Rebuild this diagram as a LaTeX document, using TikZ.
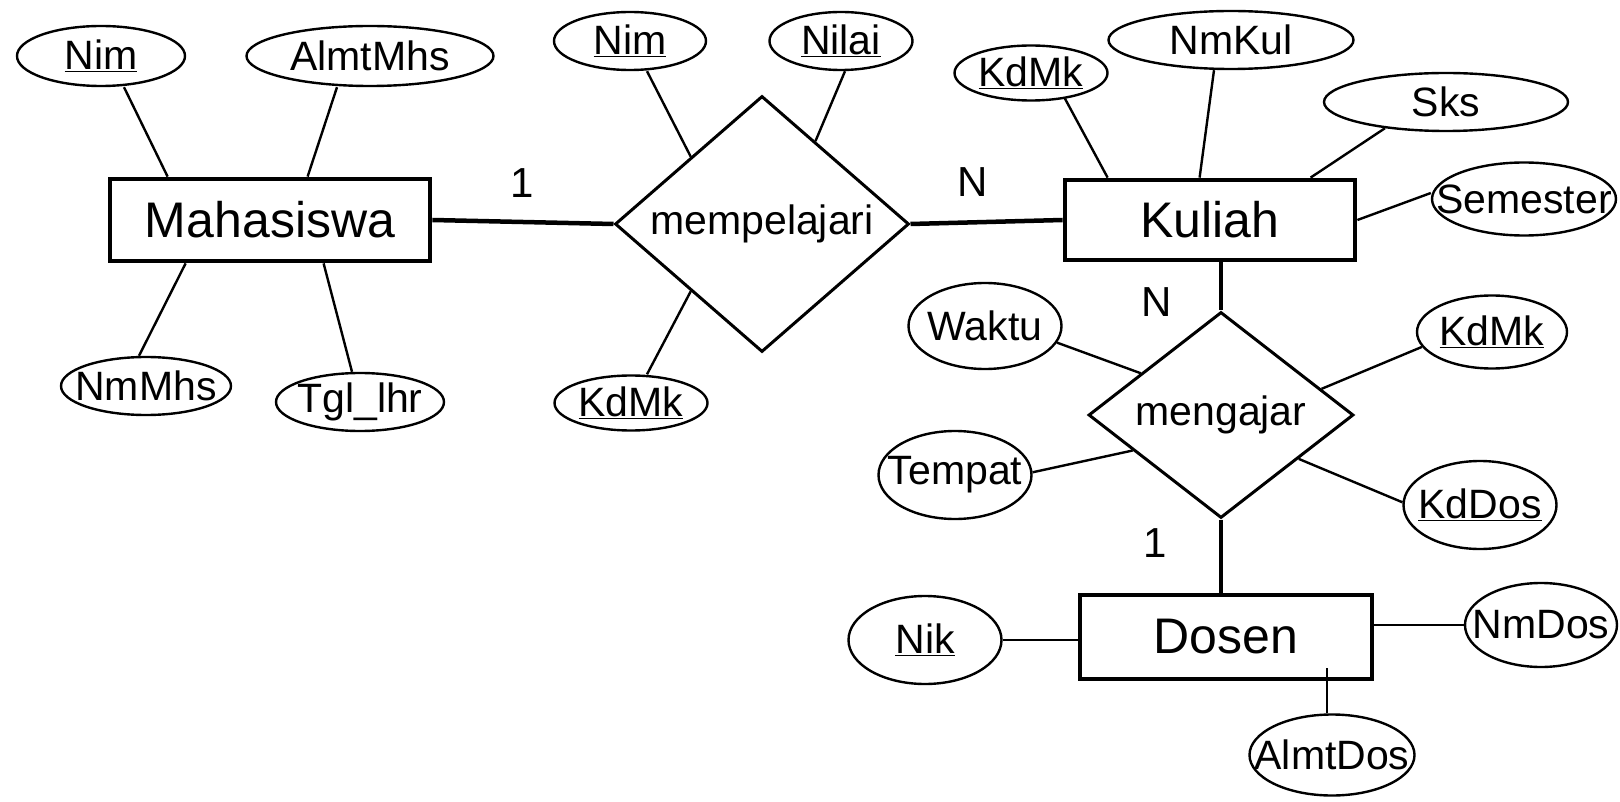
\documentclass[tikz,border=0pt]{standalone}
\usepackage{fontspec}
\setmainfont{Liberation Sans}
\usetikzlibrary{shapes.geometric,calc}
\begin{document}
\begin{tikzpicture}[x=1pt,y=-1pt,
  ent/.style={draw, line width=4.8pt, rectangle, inner sep=0pt},
  rel/.style={draw, line width=3pt, diamond, inner sep=0pt},
  attr/.style={draw, line width=2.4pt, ellipse, inner sep=0pt},
  conn/.style={line width=2.4pt},
  thickconn/.style={line width=4.5pt},
  etext/.style={font=\fontsize{50}{60}\selectfont},
  rtext/.style={font=\fontsize{41}{49}\selectfont},
  atext/.style={font=\fontsize{41}{49}\selectfont},
  card/.style={font=\fontsize{42}{50}\selectfont}]
\useasboundingbox[fill=white] (0,0) rectangle (1620,802);

% entities
\node[ent, minimum width=320, minimum height=82, label={[etext]center:Mahasiswa}] (maha) at (270,220) {};
\node[ent, minimum width=290, minimum height=80, label={[etext]center:Kuliah}] (kul) at (1210,220) {};
\node[ent, minimum width=292, minimum height=84, label={[etext]center:Dosen}] (dos) at (1226,637) {};

% relationships
\node[rel, minimum width=294, minimum height=256, label={[rtext]center:mempelajari}] (mp) at (762,224) {};
\node[rel, minimum width=265, minimum height=206, label={[rtext]center:mengajar}] (mg) at (1221,415) {};

% attributes
\node[attr, minimum width=168, minimum height=60, label={[atext]center:\underline{Nim}}] (a1) at (101,56) {};
\node[attr, minimum width=247, minimum height=60, label={[atext]center:AlmtMhs}] (a2) at (370,56) {};
\node[attr, minimum width=170, minimum height=58, label={[atext]center:NmMhs}] (a3) at (146,386) {};
\node[attr, minimum width=168, minimum height=58, label={[atext]center:Tgl\_lhr}] (a4) at (360,402) {};
\node[attr, minimum width=152, minimum height=58, label={[atext]center:\underline{Nim}}] (b1) at (630,41) {};
\node[attr, minimum width=143, minimum height=58, label={[atext]center:\underline{Nilai}}] (b2) at (841,41) {};
\node[attr, minimum width=153, minimum height=55, label={[atext]center:\underline{KdMk}}] (b3) at (631,403) {};
\node[attr, minimum width=153, minimum height=55, label={[atext]center:\underline{KdMk}}] (c1) at (1031,73) {};
\node[attr, minimum width=245, minimum height=58, label={[atext]center:NmKul}] (c2) at (1231,40) {};
\node[attr, minimum width=244, minimum height=58, label={[atext]center:Sks}] (c3) at (1446,102) {};
\node[attr, minimum width=184, minimum height=73, label={[atext]center:Semester}] (c4) at (1524,199) {};
\node[attr, minimum width=153, minimum height=86, label={[atext]center:Waktu}] (d1) at (985,326) {};
\node[attr, minimum width=150, minimum height=73, label={[atext]center:\underline{KdMk}}] (d2) at (1492,332) {};
\node[attr, minimum width=153, minimum height=88, label={[atext]center:Tempat}] (d3) at (955,475) {};
\node[attr, minimum width=153, minimum height=88, label={[atext]center:\underline{KdDos}}] (d4) at (1480,505) {};
\node[attr, minimum width=153, minimum height=88, label={[atext]center:\underline{Nik}}] (e1) at (925,640) {};
\node[attr, minimum width=152, minimum height=84, label={[atext]center:NmDos}] (e2) at (1541,625) {};
\node[attr, minimum width=165, minimum height=81, label={[atext]center:AlmtDos}] (e3) at (1332,755) {};

% cardinalities
\node[card] (k1) at (522,183) {1};
\node[card] (k2) at (973,182) {N};
\node[card] (k3) at (1157,302) {N};
\node[card] (k4) at (1155,543) {1};

% relationship connectors
\draw[thickconn] (maha.east) -- (mp.west);
\draw[thickconn] (mp.east) -- (kul.west);
\draw[thickconn] (mg.north |- kul.south) -- (mg.north);
\draw[thickconn] (mg.south) -- (mg.south |- dos.north);

% attribute connectors
\draw[conn] ([xshift=23]a1.south) -- ([xshift=60]maha.north west);
\draw[conn] ([xshift=-33]a2.south) -- ([xshift=200]maha.north west);
\draw[conn] ([xshift=78]maha.south west) -- ([xshift=-7]a3.north);
\draw[conn] ([xshift=216]maha.south west) -- ([xshift=-8]a4.north);
\draw[conn] ([xshift=17]b1.south) -- ($(mp.north)!0.48!(mp.west)$);
\draw[conn] ([xshift=4]b2.south) -- ($(mp.north)!0.36!(mp.east)$);
\draw[conn] ($(mp.west)!0.52!(mp.south)$) -- ([xshift=16]b3.north);
\draw[conn] ([xshift=34,yshift=3]c1.south) -- ([xshift=45]kul.north west);
\draw[conn] ([xshift=-17]c2.south) -- ([xshift=137]kul.north west);
\draw[conn] ([xshift=-61,yshift=4]c3.south) -- ([xshift=248]kul.north west);
\draw[conn] (kul.east) -- ([yshift=6]c4.west);
\draw[conn] (d1.-13) -- ($(mg.north)!0.6!(mg.west)$);
\draw[conn] ($(mg.north)!0.75!(mg.east)$) -- (d2.192);
\draw[conn] (d3.2) -- ($(mg.west)!0.34!(mg.south)$);
\draw[conn] ($(mg.east)!0.42!(mg.south)$) -- (d4.178);
\draw[conn] (e1.east) -- (e1.east -| dos.west);
\draw[conn] (e2.west -| dos.east) -- (e2.west);
\draw[conn] ([xshift=-4.75]e3.north) -- ([xshift=-4.75]e3.north |- 0,667.75);
\end{tikzpicture}
\end{document}
